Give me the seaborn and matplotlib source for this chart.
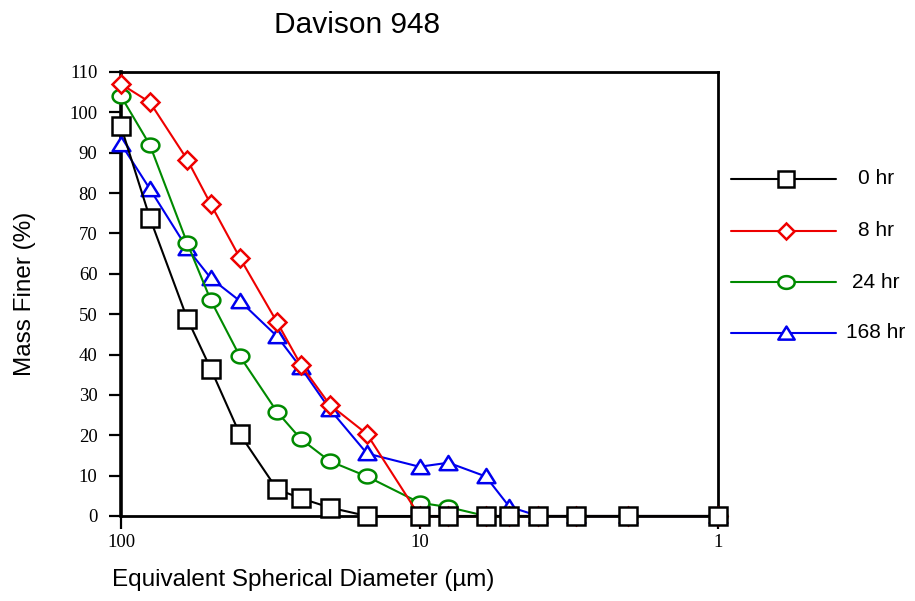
import numpy as np
import pandas as pd
import matplotlib
matplotlib.use("Agg")
import matplotlib.pyplot as plt
from matplotlib.path import Path
from matplotlib.lines import Line2D
import seaborn as sns

# ---- data ----
diameters = [100, 80, 60, 50, 40, 30, 25, 20, 15, 10, 8, 6, 5, 4, 3, 2, 1]
hr0 = [96.5, 73.8, 48.9, 36.4, 20.3, 6.6, 4.4, 2.1, 0, 0, 0, 0, 0, 0, 0, 0, 0]
hr8 = [107.0, 102.5, 88.3, 77.2, 64.0, 48.0, 37.5, 27.6, 20.3, 0, 0, 0, 0, 0, 0, 0, 0]
hr24 = [104.0, 91.9, 67.6, 53.4, 39.6, 25.8, 19.1, 13.6, 9.8, 3.3, 2.2, 0, 0, 0, 0, 0, 0]
hr168 = [92.2, 81.0, 66.3, 58.9, 53.3, 44.5, 36.8, 26.5, 15.5, 12.2, 13.2, 9.8, 2.3, 0, 0, 0, 0]
series_names = ["0 hr", "8 hr", "24 hr", "168 hr"]
x_ticks = [100, 10, 1]
x_ticklabels = ["100", "10", "1"]
y_ticks = list(range(0, 111, 10))

title = "Davison 948"
xlabel = "Equivalent Spherical Diameter (µm)"
ylabel = "Mass Finer (%)"

rows = []
for name, vals in zip(series_names, [hr0, hr8, hr24, hr168]):
    for d, v in zip(diameters, vals):
        rows.append({"diameter": d, "finer": v, "series": name})
df = pd.DataFrame(rows)

# ---- style ----
sns.set_style("white")
plt.rcParams["font.family"] = ["Liberation Sans", "DejaVu Sans"]
plt.rcParams["text.color"] = "black"
plt.rcParams["xtick.color"] = "black"
plt.rcParams["ytick.color"] = "black"

# custom markers
t = np.linspace(0, 2 * np.pi, 60)
ellipse = Path(np.column_stack([np.cos(t), 0.78 * np.sin(t)]), closed=True)
tri = Path([(0, 0.85), (-1, -0.75), (1, -0.75), (0, 0.85)], closed=True)

styles = {
    "0 hr": dict(color="black", marker="s", ms=12.4),
    "8 hr": dict(color="#ee0000", marker="D", ms=8.8),
    "24 hr": dict(color="#008a00", marker=ellipse, ms=12.8),
    "168 hr": dict(color="#0000ee", marker=tri, ms=12.8),
}
draw_order = ["168 hr", "24 hr", "8 hr", "0 hr"]

W, H = 915, 601
fig = plt.figure(figsize=(W / 100, H / 100), dpi=100)
L, R, T, B = 121, 718, 72, 516
ax = fig.add_axes([L / W, 1 - B / H, (R - L) / W, (B - T) / H])

for i, name in enumerate(draw_order):
    st = styles[name]
    sns.lineplot(data=df[df["series"] == name], x="diameter", y="finer",
                 ax=ax, color=st["color"], marker=st["marker"],
                 markersize=st["ms"], markerfacecolor="white",
                 markeredgecolor=st["color"], markeredgewidth=1.8,
                 linewidth=1.5, estimator=None, sort=False, legend=False,
                 clip_on=False, zorder=3 + i)

ax.set_xscale("log")
ax.set_xlim(100, 1)
ax.set_ylim(0, 110)
ax.set_xticks(x_ticks)
ax.set_xticklabels(x_ticklabels)
ax.xaxis.set_minor_locator(matplotlib.ticker.NullLocator())
ax.set_yticks(y_ticks)
ax.set_yticklabels([str(v) for v in y_ticks])
ax.set_xlabel("")
ax.set_ylabel("")

for s in ax.spines.values():
    s.set_visible(True)
    s.set_color("black")
    s.set_linewidth(2.0)
    s.set_zorder(2)
ax.spines["left"].set_linewidth(2.6)

ax.tick_params(axis="both", which="major", direction="out", length=9,
               width=1.6, color="black", labelcolor="black", labelsize=13.5,
               bottom=True, left=True, top=False, right=False)
ax.tick_params(axis="x", pad=4)
ax.tick_params(axis="y", pad=8)
for lab in ax.get_xticklabels() + ax.get_yticklabels():
    lab.set_family(["Liberation Serif", "DejaVu Serif"])
    lab.set_fontsize(13.5)

# titles / labels
fig.text(357 / W, 1 - 25 / H, title, ha="center", va="center", fontsize=21.5)
fig.text(303 / W, 1 - 580 / H, xlabel, ha="center", va="center", fontsize=17.5)
fig.text(25 / W, 1 - 294 / H, ylabel, ha="center", va="center", fontsize=17.5,
         rotation=90)

# legend (outside right)
leg_rows = [179, 230.5, 282, 333]
for name, yy in zip(series_names, leg_rows):
    st = styles[name]
    yf = 1 - yy / H
    fig.add_artist(Line2D([731 / W, 836 / W], [yf, yf], color=st["color"],
                          linewidth=1.5, transform=fig.transFigure))
    fig.add_artist(Line2D([786 / W], [yf], marker=st["marker"],
                          markersize=st["ms"] * 0.92, markerfacecolor="white",
                          markeredgecolor=st["color"], markeredgewidth=1.8,
                          linestyle="none", transform=fig.transFigure))
    fig.text(876 / W, yf, name, ha="center", va="center", fontsize=15)

fig.savefig("out.png", dpi=100)
